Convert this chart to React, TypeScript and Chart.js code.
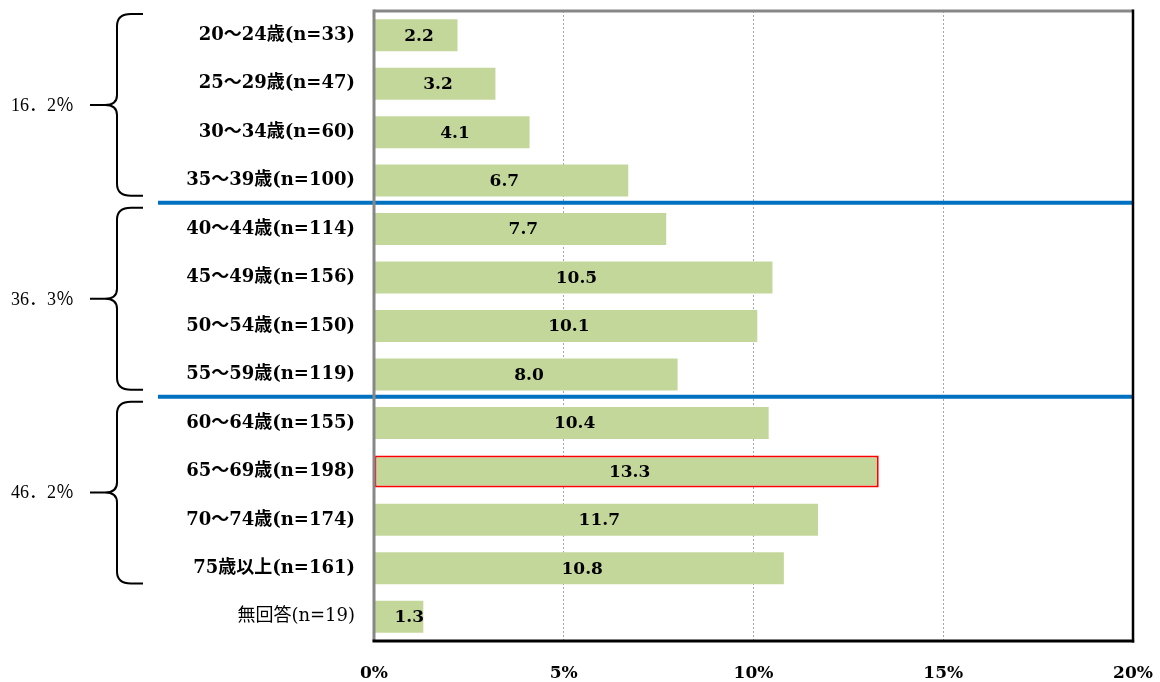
import React, { useEffect, useRef } from "react";
import { Chart, registerables } from "chart.js";

Chart.register(...registerables);

const categories = [
  "20～24歳(n=33)",
  "25～29歳(n=47)",
  "30～34歳(n=60)",
  "35～39歳(n=100)",
  "40～44歳(n=114)",
  "45～49歳(n=156)",
  "50～54歳(n=150)",
  "55～59歳(n=119)",
  "60～64歳(n=155)",
  "65～69歳(n=198)",
  "70～74歳(n=174)",
  "75歳以上(n=161)",
  "無回答(n=19)",
];
const values = [2.2, 3.2, 4.1, 6.7, 7.7, 10.5, 10.1, 8.0, 10.4, 13.3, 11.7, 10.8, 1.3];
const highlightIndex = 9;
const normalWeightIndex = 12;
const groupLabels = ["16．2％", "36．3％", "46．2％"];
const groupRanges = [
  [0, 3],
  [4, 7],
  [8, 11],
];
const xMin = 0;
const xMax = 20;
const xStep = 5;

const SERIF = '"DejaVu Serif", "Noto Sans CJK JP", serif';
const LABEL_SERIF = '"Liberation Serif", "Noto Sans CJK JP", serif';

const decorPlugin = {
  id: "decor",
  afterDatasetsDraw(chart: any) {
    const ctx = chart.ctx;
    const area = chart.chartArea;
    const yScale = chart.scales.y;
    const meta = chart.getDatasetMeta(0);
    const half = (yScale.getPixelForValue(1) - yScale.getPixelForValue(0)) / 2;
    ctx.save();

    // separators between groups
    ctx.strokeStyle = "#0070C0";
    ctx.lineWidth = 4;
    for (let g = 0; g < groupRanges.length - 1; g++) {
      const y = yScale.getPixelForValue(groupRanges[g][1]) + half - 2;
      ctx.beginPath();
      ctx.moveTo(158, y);
      ctx.lineTo(area.right, y);
      ctx.stroke();
    }

    // frame
    ctx.lineCap = "butt";
    ctx.strokeStyle = "#878787";
    ctx.lineWidth = 3;
    ctx.beginPath();
    ctx.moveTo(area.left, area.top);
    ctx.lineTo(area.right, area.top);
    ctx.stroke();
    ctx.beginPath();
    ctx.moveTo(area.left, area.top - 1.5);
    ctx.lineTo(area.left, area.bottom);
    ctx.stroke();
    ctx.strokeStyle = "#000000";
    ctx.lineWidth = 2.5;
    ctx.beginPath();
    ctx.moveTo(area.right, area.top - 1.5);
    ctx.lineTo(area.right, area.bottom + 1.5);
    ctx.stroke();
    ctx.lineWidth = 3;
    ctx.beginPath();
    ctx.moveTo(area.left - 1.5, area.bottom);
    ctx.lineTo(area.right + 1.2, area.bottom);
    ctx.stroke();

    // data labels
    ctx.fillStyle = "#000000";
    ctx.font = "bold 17px " + SERIF;
    ctx.textAlign = "center";
    ctx.textBaseline = "middle";
    meta.data.forEach((bar: any, i: number) => {
      const txt = values[i].toFixed(1);
      const w = ctx.measureText(txt).width;
      const center = (bar.base + bar.x) / 2 + 3;
      const x = Math.max(center, bar.base + w / 2 + 20);
      ctx.fillText(txt, x, bar.y + 1);
    });

    // braces
    ctx.strokeStyle = "#000000";
    ctx.lineWidth = 2;
    ctx.lineJoin = "round";
    const x0 = 117;
    const xr = 143;
    const xt = 90;
    groupRanges.forEach((r, g) => {
      const top = Math.max(area.top, yScale.getPixelForValue(r[0]) - half + 3);
      const bottom = yScale.getPixelForValue(r[1]) + half - 9;
      const mid = (top + bottom) / 2;
      ctx.beginPath();
      ctx.moveTo(xr, top);
      ctx.lineTo(x0 + 14, top);
      ctx.quadraticCurveTo(x0, top, x0, top + 12);
      ctx.lineTo(x0, mid - 10);
      ctx.quadraticCurveTo(x0, mid, x0 - 12, mid);
      ctx.lineTo(xt, mid);
      ctx.moveTo(x0 - 12, mid);
      ctx.quadraticCurveTo(x0, mid, x0, mid + 10);
      ctx.lineTo(x0, bottom - 12);
      ctx.quadraticCurveTo(x0, bottom, x0 + 14, bottom);
      ctx.lineTo(xr, bottom);
      ctx.stroke();

      ctx.font = "18px " + LABEL_SERIF;
      ctx.textAlign = "left";
      ctx.textBaseline = "middle";
      ctx.fillText(groupLabels[g], 11, mid + 1);
    });

    ctx.restore();
  },
};

export default function App() {
  const canvasRef = useRef<HTMLCanvasElement | null>(null);

  useEffect(() => {
    const canvas = canvasRef.current;
    if (!canvas) return;
    const chart = new Chart(canvas, {
      type: "bar",
      data: {
        labels: categories,
        datasets: [
          {
            data: values,
            backgroundColor: "#C4D79B",
            borderColor: values.map((_, i) => (i === highlightIndex ? "#FF0000" : "rgba(0,0,0,0)")),
            borderWidth: values.map((_, i) => (i === highlightIndex ? 2 : 0)),
            borderSkipped: false,
            barPercentage: 0.66,
            categoryPercentage: 1,
          },
        ],
      },
      options: {
        indexAxis: "y",
        animation: false,
        responsive: false,
        maintainAspectRatio: false,
        layout: { padding: { top: 11, right: 27, left: 0, bottom: 0 } },
        plugins: {
          legend: { display: false },
          tooltip: { enabled: false },
        },
        scales: {
          x: {
            min: xMin,
            max: xMax,
            border: { display: false, dash: [2, 2] },
            grid: {
              drawTicks: false,
              color: (c: any) =>
                c.tick && (c.tick.value === xMin || c.tick.value === xMax) ? "rgba(0,0,0,0)" : "#A6A6A6",
              lineWidth: 1,
            },
            ticks: {
              stepSize: xStep,
              padding: 22,
              color: "#000000",
              font: { family: SERIF, size: 17, weight: "bold" },
              callback: (v: any) => v + "%",
            },
            afterFit: (scale: any) => {
              scale.height = 41;
              scale.paddingLeft = 0;
              scale.paddingRight = 0;
              scale.paddingTop = 0;
              scale.paddingBottom = 0;
            },
          },
          y: {
            border: { display: false },
            grid: { display: false, drawTicks: false },
            ticks: {
              padding: 19,
              color: "#000000",
              autoSkip: false,
              font: (c: any) => ({
                family: SERIF,
                size: 18,
                weight: c.index === normalWeightIndex ? "normal" : "bold",
              }),
            },
            afterFit: (scale: any) => {
              scale.width = 374;
              scale.paddingLeft = 0;
              scale.paddingRight = 0;
              scale.paddingTop = 0;
              scale.paddingBottom = 0;
            },
          },
        },
      },
      plugins: [decorPlugin],
    } as any);
    return () => chart.destroy();
  }, []);

  return (
    <div style={{ position: "fixed", top: 0, left: 0, width: 1160, height: 682, background: "#ffffff" }}>
      <canvas ref={canvasRef} width={1160} height={682} style={{ display: "block" }} />
    </div>
  );
}
